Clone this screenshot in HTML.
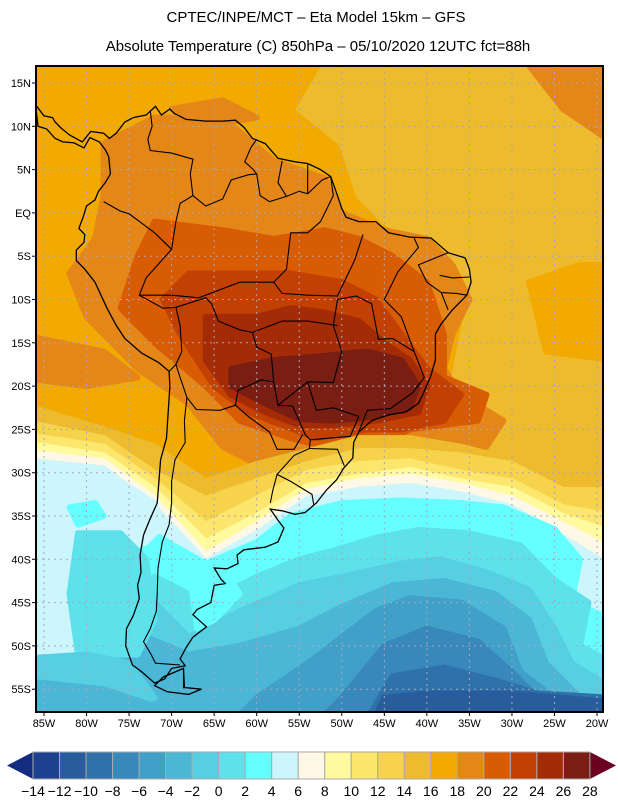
<!DOCTYPE html>
<html><head><meta charset="utf-8"><style>
html,body{margin:0;padding:0;background:#fff;}
svg{display:block;font-family:"Liberation Sans",sans-serif;}
</style></head><body>
<svg id="chart" width="618" height="800" viewBox="0 0 618 800" xmlns="http://www.w3.org/2000/svg">
<text x="316" y="22" text-anchor="middle" font-size="15" fill="#000">CPTEC/INPE/MCT –  Eta Model 15km – GFS</text>
<text x="318" y="51" text-anchor="middle" font-size="15" fill="#000">Absolute Temperature (C) 850hPa – 05/10/2020 12UTC fct=88h</text>
<defs><clipPath id="mapclip"><rect x="36" y="66" width="567" height="646"/></clipPath></defs>
<g id="fields" clip-path="url(#mapclip)"></g>
<g id="grid" clip-path="url(#mapclip)"></g>
<g id="coast" clip-path="url(#mapclip)"></g>
<rect x="36" y="66" width="567" height="646" fill="none" stroke="#000" stroke-width="2"/>
<g id="axes"></g>
<g id="cbar"></g>
</svg>
<script>
const levels=[-14,-12,-10,-8,-6,-4,-2,0,2,4,6,8,10,12,14,16,18,20,22,24,26,28];
const colors=["#1d418e","#285c9c","#2f72ab","#3888bb","#40a0c8","#4bb6d6","#55cfe1","#5de2ec","#66ffff","#ccf5fc","#fff8e6","#fffa9e","#fde66e","#f6d34a","#edbb2d","#f2aa00","#e58718","#d85c04","#c24002","#a32b05","#7a1d12"];
const lonTicks=[-85,-80,-75,-70,-65,-60,-55,-50,-45,-40,-35,-30,-25,-20];
const latTicks=[15,10,5,0,-5,-10,-15,-20,-25,-30,-35,-40,-45,-50,-55];
const regions=[
[14,[[-52,17],[-20,17],[-20,-6],[-28,-12],[-20,-14],[-20,-32],[-40,-28],[-37,-20],[-35,-10],[-40,-4],[-45,-1],[-48,2],[-50,8],[-55,12]]],
[15,[[-28,-8],[-22,-6],[-20,-6],[-20,-17],[-26,-16]]],
[16,[[-28,17],[-20,17],[-20,8],[-24,12]]],
[16,[[-86,-14],[-78,-16],[-74,-19],[-80,-20],[-86,-19]]],
[16,[[-70,12],[-64,13],[-60,11],[-66,10]]],
[16,[[-78,8],[-72,11],[-64,11],[-58,6],[-52,4],[-50,0],[-45,-2],[-40,-3],[-37,-6],[-35,-10],[-37,-14],[-38,-18],[-36,-21],[-31,-24],[-33,-27],[-44,-27],[-50,-28],[-55,-30],[-60,-29],[-64,-27],[-68,-22],[-74,-18],[-80,-12],[-82,-7],[-79,-3],[-78,2]]],
[17,[[-72,-1],[-64,-2],[-58,-3],[-52,-2],[-48,-3],[-44,-5],[-40,-8],[-38,-14],[-38,-19],[-33,-21],[-34,-24],[-42,-25],[-46,-27],[-52,-27],[-56,-26],[-62,-24],[-66,-20],[-72,-15],[-76,-11],[-74,-5]]],
[18,[[-68,-7],[-62,-7],[-56,-7],[-50,-8],[-46,-10],[-43,-14],[-40,-18],[-36,-21],[-38,-24],[-43,-25],[-47,-25],[-50,-25.5],[-53,-26],[-57,-24.5],[-61,-23],[-65,-20],[-69,-14],[-71,-10]]],
[19,[[-66,-12],[-60,-12],[-56,-11],[-52,-11.5],[-48,-12.5],[-45,-15],[-42,-17],[-40,-20],[-41,-23],[-46,-24],[-51,-24.5],[-55,-24.5],[-59,-23],[-63,-21],[-66,-17]]],
[20,[[-63,-18],[-58,-17],[-52,-16.5],[-47,-16],[-43,-17],[-41,-20],[-42,-22.5],[-46,-23.5],[-51,-24],[-55,-23.8],[-59,-22],[-63,-20]]],
[14,[[-86,-22],[-78,-25],[-72,-27],[-66,-31],[-60,-29],[-54,-27.5],[-48,-26],[-42,-26],[-36,-27],[-30,-28.5],[-24,-30],[-20,-30],[-20,-60],[-86,-60]]],
[13,[[-86,-24],[-78,-26],[-72,-30],[-66,-33],[-60,-31],[-54,-29],[-48,-27.5],[-42,-27.5],[-36,-28],[-30,-29],[-24,-32],[-20,-32],[-20,-60],[-86,-60]]],
[12,[[-86,-25.5],[-78,-27],[-72,-31],[-66,-36],[-60,-33],[-54,-30],[-48,-29],[-42,-28.7],[-36,-30],[-30,-31],[-24,-34],[-20,-35],[-20,-60],[-86,-60]]],
[11,[[-86,-26.5],[-78,-28],[-72,-32],[-66,-38],[-60,-35],[-54,-31.5],[-48,-30.5],[-42,-29.7],[-36,-31],[-30,-32],[-24,-35],[-20,-37],[-20,-60],[-86,-60]]],
[10,[[-86,-27.5],[-78,-28.7],[-72,-33],[-66,-39.5],[-60,-36],[-54,-32.2],[-48,-31],[-42,-30.5],[-36,-31.5],[-30,-33],[-24,-36],[-20,-39],[-20,-60],[-86,-60]]],
[9,[[-86,-28.5],[-78,-29.5],[-72,-34],[-66,-40.3],[-60,-37],[-54,-33],[-48,-32],[-42,-31.5],[-36,-32.5],[-30,-34],[-24,-37.5],[-20,-41],[-20,-60],[-86,-60]]],
[8,[[-66,-40.5],[-60,-38],[-56,-35],[-50,-33.5],[-43,-33.2],[-36,-33.5],[-31,-34],[-25,-36.5],[-22,-40],[-23,-45],[-20,-47],[-20,-60],[-75,-60],[-76,-45],[-74,-36]]],
[7,[[-72,-42],[-66,-45],[-60,-42],[-55,-40],[-51,-39],[-46,-37.5],[-41,-36.6],[-35,-37],[-29,-38.4],[-25,-42.4],[-21,-45],[-22,-50],[-20,-52],[-20,-60],[-78,-60],[-78,-50]]],
[6,[[-72,-45],[-68,-49],[-62,-46],[-55,-43],[-49,-41.8],[-43,-40.5],[-38.5,-40],[-33,-41.5],[-28,-43.5],[-25,-48],[-23,-52],[-20,-55],[-20,-60],[-80,-60],[-80,-52],[-76,-48]]],
[5,[[-73,-49],[-68,-51],[-62,-50],[-55,-48],[-50,-45.5],[-44,-43],[-38,-42.5],[-32,-44],[-28,-47],[-26,-52],[-22,-56],[-20,-57],[-20,-60],[-86,-60],[-86,-54],[-78,-53]]],
[4,[[-50,-49],[-46,-46],[-42,-44.5],[-36,-45],[-31,-48],[-29,-53],[-25,-56],[-20,-58],[-20,-60],[-64,-60],[-60,-56],[-54,-52]]],
[3,[[-45,-50],[-40,-48],[-34,-49.5],[-30,-53],[-27,-56],[-22,-57],[-20,-57.5],[-20,-60],[-54,-60],[-50,-56]]],
[2,[[-44,-53.5],[-38,-52.5],[-32,-54],[-27,-55.5],[-20,-56],[-20,-60],[-48,-60]]],
[1,[[-45,-56],[-40,-55.5],[-30,-55.5],[-24,-56],[-20,-56.5],[-20,-60],[-47,-60]]],
[9,[[-86,-29],[-76,-31],[-72,-33.5],[-71,-36],[-73,-38],[-78,-40],[-80,-45],[-80,-52],[-86,-53]]],
[7,[[-81,-37],[-76,-37],[-73,-40],[-72,-47],[-74,-51],[-81,-51],[-82,-44]]],
[8,[[-82,-34],[-79,-33.5],[-78,-35],[-81,-36]]],
[6,[[-86,-51.5],[-80,-51],[-75,-52],[-72,-56],[-86,-60]]],
[5,[[-86,-54],[-78,-55],[-72,-57],[-86,-60]]],
[8,[[-68,-40.5],[-64,-41],[-62,-44],[-65,-47],[-67,-48]]]
];
const coastline=[[-86,12.5],[-85,11.2],[-84,11],[-83.7,10.5],[-83,9.8],[-82,9],[-80.5,8.2],[-79.5,9.4],[-78,9.2],[-77.3,8.6],[-76.5,9.2],[-75.5,10.5],[-74.5,11],[-73,11.3],[-71.9,12.3],[-71.2,11.3],[-70.2,12],[-69.7,11.5],[-68.3,10.8],[-66,10.6],[-64,10.6],[-62.5,10.7],[-61.5,9.9],[-60.5,8.6],[-59,8],[-57.5,6.3],[-55.5,5.9],[-54,5.7],[-52.5,5],[-51.3,4.2],[-50.5,2],[-50,0.5],[-49.5,-0.5],[-48,-1],[-46,-1],[-44.5,-2.3],[-42,-2.8],[-39.5,-2.9],[-37.5,-4.6],[-35.5,-5.2],[-35,-6.5],[-34.8,-8],[-35.3,-9.5],[-37,-11.2],[-38.3,-12.8],[-39,-14],[-39,-17],[-39.6,-19],[-40.5,-21],[-41,-22],[-42.5,-23],[-44.5,-23.3],[-46.5,-24],[-48,-25.3],[-48.6,-26.5],[-48.7,-28.3],[-49.8,-29.5],[-50.6,-30.8],[-51.8,-32],[-53,-33.5],[-54.3,-34.6],[-55.5,-34.8],[-57,-34.4],[-58.4,-34.2],[-57.5,-35.5],[-56.8,-36.4],[-57.5,-38],[-59,-38.6],[-61.5,-38.9],[-62.3,-39.5],[-62.2,-40.5],[-63.5,-41.1],[-65,-41],[-64.2,-42.3],[-63.7,-42.8],[-65,-43],[-65.4,-45],[-67,-45.8],[-67.5,-46.4],[-65.9,-47.8],[-67.5,-49],[-68.3,-50.2],[-69,-51.5],[-68.4,-52.3],[-70,-52.6],[-70.8,-53.8],[-72,-54.3],[-73.5,-53],[-74.6,-52.2],[-75.4,-50],[-75.3,-48],[-74.5,-46.5],[-73.8,-44.5],[-74,-43],[-73.6,-41.5],[-73.7,-39.5],[-73.3,-37.2],[-72.6,-35.5],[-71.7,-33.5],[-71.5,-31],[-71.3,-28.5],[-70.6,-26],[-70.4,-23],[-70.2,-20],[-70.3,-18.3],[-71.5,-17.3],[-73.5,-16.2],[-75.5,-14.5],[-76.5,-13],[-77.6,-11],[-79,-8],[-80.2,-6.5],[-81.2,-5.5],[-81.2,-4.3],[-80.3,-3.4],[-80.2,-2.5],[-80.9,-1.8],[-80.4,-0.5],[-80,0.8],[-79,1.5],[-78.6,2.5],[-77.8,3.5],[-77.2,4.5],[-77.4,6.5],[-77.8,7.3],[-78.5,8.2],[-79.6,8.7],[-80.3,7.5],[-81.5,8.1],[-82.8,8.2],[-83.7,8.6],[-84.7,9.7],[-85.7,10]];
const fuego=[[-68.6,-52.6],[-68.5,-54.8],[-66.5,-55],[-68,-55.6],[-70.5,-55.3],[-72,-54.6],[-71,-53.6]];
const borders=[
[[-78,1.3],[-76,0.2],[-75,-0.1],[-72,-2.3],[-70,-4.2],[-73,-7.5],[-73.8,-9.5],[-71,-11],[-69.5,-10.9],[-69,-13],[-68.8,-16],[-69.5,-17.5],[-70.3,-18.3]],
[[-72.5,11.8],[-72.3,10],[-72.8,8.5],[-72.5,7.2],[-70,6.9],[-67.5,6.2],[-67.8,4.5],[-67.5,2],[-69,1.1],[-69.5,-1],[-70,-4.2]],
[[-60,8.5],[-60.7,7.5],[-61.4,5.9],[-60.5,5.1],[-60,4.5],[-59.6,2],[-58.5,1.3],[-56.5,1.9],[-55,2.5],[-54,2.2],[-52.3,3.8],[-51.3,4.2]],
[[-67.5,2],[-66,0.8],[-64,1.6],[-63,3.8],[-61,4.4],[-60,4.5]],
[[-57,6],[-57.5,3.5],[-56.5,1.9]],[[-54,5.7],[-54,3.5],[-54,2.2]],
[[-69.5,-10.9],[-66,-9.8],[-65.3,-10.5],[-64.5,-12.5],[-62,-13.5],[-60.5,-13.8],[-60,-15.5],[-58.3,-16.3],[-58,-19.5],[-57.5,-22.2],[-55.8,-22.3],[-55,-24],[-54.3,-25.6],[-53.7,-26.2],[-53.8,-27.2],[-55.6,-28],[-57.6,-30.2],[-56,-31],[-53.5,-32.5],[-53.3,-33.7]],
[[-58,-19.5],[-59.5,-19.3],[-62.2,-20.5],[-62.5,-22.2],[-64.3,-22.8],[-67.1,-22.7],[-68.2,-21.3],[-69,-19],[-69.5,-17.5]],
[[-62.5,-22.2],[-61,-23.5],[-58.5,-25.3],[-57.6,-27.3],[-55.6,-27.3],[-54.6,-25.6]],
[[-68.2,-21.3],[-68.5,-24],[-68.4,-26.5],[-69.6,-28.5],[-70,-31],[-70,-33.5],[-70.3,-36],[-71.1,-38],[-71.6,-41],[-71.7,-44],[-71.8,-46],[-72.5,-48],[-73.3,-49.5],[-72.4,-51],[-71.9,-52],[-69,-52.2]],
[[-58.4,-33.5],[-58.1,-32],[-57.6,-30.2]],
[[-68.6,-52.6],[-68.6,-54.9]],
[[-57.5,-22.2],[-54,-19.5],[-51,-19.6],[-50,-16],[-51,-13],[-50.5,-10],[-48.3,-9.6],[-46.5,-10.5],[-45.7,-14.6],[-44,-14.5],[-41.5,-16],[-40.3,-19],[-41.7,-20.8],[-44.3,-22.6],[-47,-22.8],[-48,-25.3]],
[[-60.5,-13.8],[-57,-12.5],[-54,-12.5],[-50.5,-13]],
[[-58,-8],[-57,-9.3],[-54,-9.5],[-50.5,-9.6],[-48.5,-5.5],[-47.5,-2.5]],
[[-73.8,-9.5],[-70,-9.5],[-66.8,-9.8],[-62,-8],[-58,-8],[-56.5,-6.5],[-56,-2.3],[-54,-2.3],[-52.5,-1],[-51,2],[-51.3,4.2]],
[[-54,-19.5],[-53,-22.8],[-51,-22.5],[-48,-23.5],[-49,-25.8],[-53.7,-26.2]],
[[-53.8,-27.2],[-50.5,-27.3],[-49.7,-29.2]],
[[-41.5,-16],[-43,-12],[-45,-10],[-43.4,-6.8],[-41,-4],[-41.5,-2.9]],
[[-38.3,-9.2],[-40,-8],[-41,-6],[-37.5,-4.6]],
[[-35,-7.4],[-37,-7.5],[-38.5,-7.2]],[[-35.3,-9.5],[-36.5,-9.3],[-38.3,-9.2],[-37.5,-11.2]]
];
const X=lon=>44+(lon+85)*8.508;
const Y=lat=>83+(15-lat)*8.66;
const edge=l=>l<=-86?-88:(l>=-20?-18:l);
const NS="http://www.w3.org/2000/svg";
const pts=a=>a.map(p=>X(p[0]).toFixed(1)+","+Y(p[1]).toFixed(1)).join(" ");
const fpts=a=>a.map(p=>X(edge(p[0])).toFixed(1)+","+Y(p[1]).toFixed(1)).join(" ");
const F=document.getElementById("fields");
const bg=document.createElementNS(NS,"rect");


bg.setAttribute("x",36);bg.setAttribute("y",66);bg.setAttribute("width",567);bg.setAttribute("height",646);bg.setAttribute("fill",colors[15]);
F.appendChild(bg);
regions.forEach(r=>{
  const p=document.createElementNS(NS,"polygon");
  
  
  p.setAttribute("points",fpts(r[1]));
  p.setAttribute("fill",colors[r[0]]);
  p.setAttribute("stroke",colors[r[0]]);
  p.setAttribute("stroke-width","6");
  p.setAttribute("stroke-linejoin","round");
  F.appendChild(p);
});
const G=document.getElementById("grid");
lonTicks.forEach(l=>{
  const ln=document.createElementNS(NS,"line");
  
  
  ln.setAttribute("x1",X(l));ln.setAttribute("x2",X(l));ln.setAttribute("y1",66);ln.setAttribute("y2",712);
  ln.setAttribute("stroke","#a8a8b8");ln.setAttribute("stroke-dasharray","2,4");ln.setAttribute("stroke-width","1");
  G.appendChild(ln);
});
latTicks.forEach(l=>{
  const ln=document.createElementNS(NS,"line");
  
  
  ln.setAttribute("y1",Y(l));ln.setAttribute("y2",Y(l));ln.setAttribute("x1",36);ln.setAttribute("x2",603);
  ln.setAttribute("stroke","#a8a8b8");ln.setAttribute("stroke-dasharray","2,4");ln.setAttribute("stroke-width","1");
  G.appendChild(ln);
});
const C=document.getElementById("coast");
[coastline,fuego].forEach(c=>{
  const p=document.createElementNS(NS,"polygon");
  
  
  p.setAttribute("points",pts(c));p.setAttribute("fill","none");p.setAttribute("stroke","#000");p.setAttribute("stroke-width","1.3");
  C.appendChild(p);
});
borders.forEach(b=>{
  const p=document.createElementNS(NS,"polyline");
  
  
  p.setAttribute("points",pts(b));p.setAttribute("fill","none");p.setAttribute("stroke","#000");p.setAttribute("stroke-width","1.1");
  C.appendChild(p);
});
const A=document.getElementById("axes");
latTicks.forEach(l=>{
  const t=document.createElementNS(NS,"text");
  
  
  t.setAttribute("x",31);t.setAttribute("y",Y(l)+4);t.setAttribute("text-anchor","end");t.setAttribute("font-size","11");
  t.textContent=l>0?l+"N":(l<0?(-l)+"S":"EQ");
  A.appendChild(t);
  const k=document.createElementNS(NS,"line");
  
  
  k.setAttribute("x1",32);k.setAttribute("x2",36);k.setAttribute("y1",Y(l));k.setAttribute("y2",Y(l));k.setAttribute("stroke","#000");
  A.appendChild(k);
});
lonTicks.forEach(l=>{
  const t=document.createElementNS(NS,"text");
  
  
  t.setAttribute("x",X(l));t.setAttribute("y",727);t.setAttribute("text-anchor","middle");t.setAttribute("font-size","11");
  t.textContent=(-l)+"W";
  A.appendChild(t);
  const k=document.createElementNS(NS,"line");
  
  
  k.setAttribute("x1",X(l));k.setAttribute("x2",X(l));k.setAttribute("y1",712);k.setAttribute("y2",716);k.setAttribute("stroke","#000");
  A.appendChild(k);
});
const CB=document.getElementById("cbar");
const cx0=33,cw=26.52,cy=752,ch=27;
const lt=document.createElementNS(NS,"polygon");


lt.setAttribute("points",`${cx0},${cy} 7,${cy+ch/2} ${cx0},${cy+ch}`);lt.setAttribute("fill","#132c80");
CB.appendChild(lt);
const rt=document.createElementNS(NS,"polygon");


const cx1=cx0+cw*colors.length;
rt.setAttribute("points",`${cx1},${cy} 616,${cy+ch/2} ${cx1},${cy+ch}`);rt.setAttribute("fill","#6b0022");
CB.appendChild(rt);
colors.forEach((c,i)=>{
  const r=document.createElementNS(NS,"rect");
  
  
  r.setAttribute("x",cx0+i*cw);r.setAttribute("y",cy);r.setAttribute("width",cw);r.setAttribute("height",ch);
  r.setAttribute("fill",c);r.setAttribute("stroke","#aaa");r.setAttribute("stroke-width","1");
  CB.appendChild(r);
});
levels.forEach((v,i)=>{
  const t=document.createElementNS(NS,"text");
  
  
  t.setAttribute("x",cx0+i*cw);t.setAttribute("y",796);t.setAttribute("text-anchor","middle");t.setAttribute("font-size","14");
  t.textContent=v<0?"\u2212"+(-v):String(v);
  CB.appendChild(t);
});
</script>
</body></html>
